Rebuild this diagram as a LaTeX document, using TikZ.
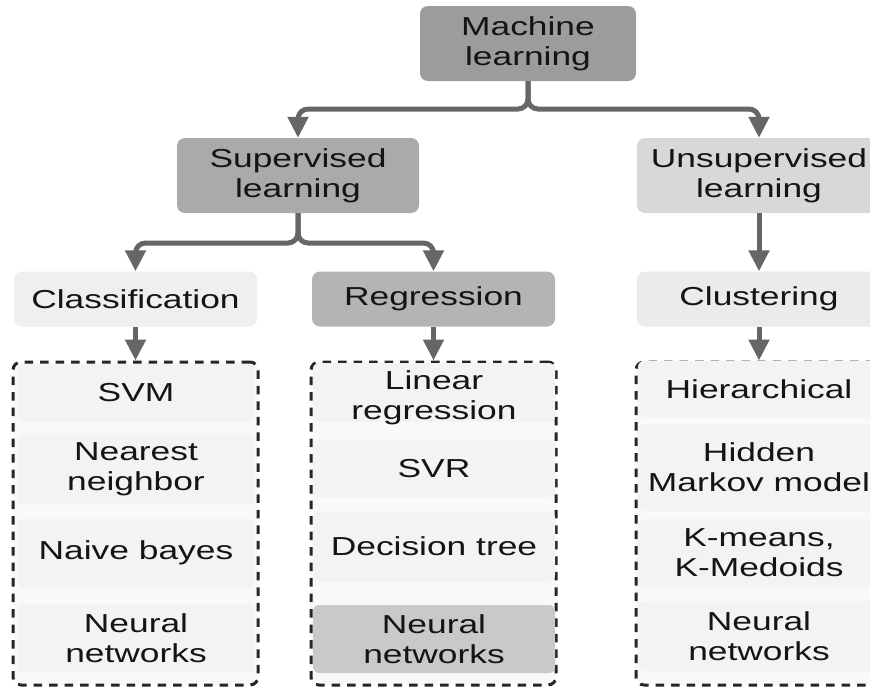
\documentclass[tikz,border=0pt]{standalone}
\usepackage{fontspec}
\setmainfont{Liberation Sans}[FakeStretch=1.36]
\usetikzlibrary{arrows.meta}

\definecolor{mlfill}{HTML}{9C9C9C}
\definecolor{supfill}{HTML}{AAAAAA}
\definecolor{regfill}{HTML}{B4B4B4}
\definecolor{unsfill}{HTML}{D8D8D8}
\definecolor{clsfill}{HTML}{EFEFEF}
\definecolor{clufill}{HTML}{EBEBEB}
\definecolor{itemfill}{HTML}{F3F3F3}
\definecolor{listfill}{HTML}{F9F9F9}
\definecolor{hotfill}{HTML}{C9C9C9}
\definecolor{conncol}{HTML}{666666}
\definecolor{txt}{HTML}{141414}

\tikzset{
  labeltext/.style={text=txt, align=center, inner sep=0pt,
    font=\fontsize{26pt}{30pt}\selectfont},
  box/.style={labeltext, rounded corners=8pt},
  catbox/.style={box, minimum height=75pt},
  subbox/.style={box, minimum height=55pt},
  listbox/.style={draw=black!85, dashed, dash pattern=on 8.5pt off 7pt,
    line width=3pt, rounded corners=8pt, fill=listfill, inner sep=0pt},
  itembox/.style={box, rounded corners=6pt, fill=itemfill},
  conn/.style={draw=conncol, line width=5pt, rounded corners=10pt,
    -{Triangle[length=21pt,width=20pt]}},
}

\begin{document}
\begin{tikzpicture}[x=1pt,y=-1pt]
\useasboundingbox (0,0) rectangle (870,688);
\clip (0,0) rectangle (870,688);
\fill[white] (0,0) rectangle (870,688);

% top level
\node[catbox, fill=mlfill, minimum width=216pt] (ml) at (528,43.5) {Machine\\learning};

% second level
\node[catbox, fill=supfill, minimum width=242pt] (sup) at (298,175.5) {Supervised\\learning};
\node[catbox, fill=unsfill, minimum width=244pt] (uns) at (759,175.5) {Unsupervised\\learning};

% third level
\node[subbox, fill=clsfill, minimum width=243pt] (cls) at (135.5,299) {Classification};
\node[subbox, fill=regfill, minimum width=243pt] (reg) at (433.5,299) {Regression};
\node[subbox, fill=clufill, minimum width=244pt] (clu) at (759,299) {Clustering};

% method lists
\node[listbox, minimum width=245pt, minimum height=323pt] (clslist) at (135.5,523.5) {};
\node[listbox, minimum width=245pt, minimum height=323pt] (reglist) at (433.5,523.5) {};
\node[listbox, minimum width=246pt, minimum height=323pt] (clulist) at (759,523.5) {};

% classification methods
\node[itembox, minimum width=238pt, minimum height=57pt] (c1) at (136,392.5) {SVM};
\node[itembox, minimum width=238pt, minimum height=69pt] (c2) at (136,469.5) {Nearest\\neighbor};
\node[itembox, minimum width=238pt, minimum height=68pt] (c3) at (136,553) {Naive bayes};
\node[itembox, minimum width=238pt, minimum height=68pt] (c4) at (136,638) {Neural\\networks};

% regression methods (first entry sits low in its cell)
\node[itembox, minimum width=242pt, minimum height=59pt,
  label={[labeltext, yshift=-5pt]center:Linear\\regression}] (r1) at (434,392.5) {};
\node[itembox, minimum width=242pt, minimum height=57pt] (r2) at (434,468.5) {SVR};
\node[itembox, minimum width=242pt, minimum height=69pt] (r3) at (434,546.5) {Decision tree};
\node[itembox, fill=hotfill, minimum width=242pt, minimum height=68pt] (r4) at (434,639) {Neural\\networks};

% clustering methods
\node[itembox, minimum width=242pt, minimum height=56pt] (u1) at (759,389) {Hierarchical};
\node[itembox, minimum width=242pt, minimum height=87pt] (u2) at (759,467.5) {Hidden\\Markov model};
\node[itembox, minimum width=242pt, minimum height=68pt] (u3) at (759,553) {K-means,\\K-Medoids};
\node[itembox, minimum width=242pt, minimum height=70pt] (u4) at (759,636) {Neural\\networks};

% branching points
\coordinate (mlsplit) at (528,109);
\coordinate (supsplit) at (298,243);

% connectors
\draw[conn] (ml.south) -- (mlsplit) -| (sup.north);
\draw[conn] (ml.south) -- (mlsplit) -| (uns.north);
\draw[conn] (sup.south) -- (supsplit) -| (cls.north);
\draw[conn] (sup.south) -- (supsplit) -| (reg.north);
\draw[conn] (uns.south) -- (clu.north);
\draw[conn] (cls.south) -- (clslist.north);
\draw[conn] (reg.south) -- (reglist.north);
\draw[conn] (clu.south) -- (clulist.north);
\end{tikzpicture}
\end{document}
